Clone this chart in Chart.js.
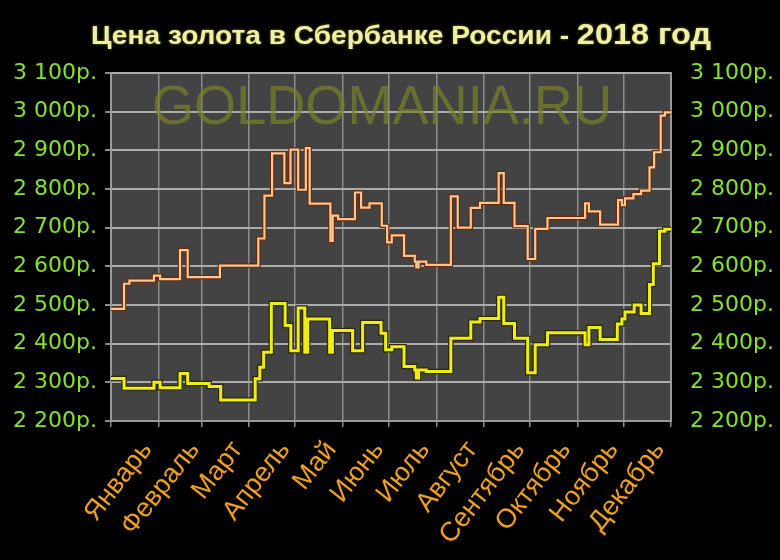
<!DOCTYPE html>
<html>
<head>
<meta charset="utf-8">
<script src="https://cdn.jsdelivr.net/npm/chart.js@4.4.1/dist/chart.umd.min.js"></script>
<style>
  html, body { margin: 0; padding: 0; background: #000; }
  #graph { display: block; }
</style>
</head>
<body>
<canvas id="graph" width="780" height="560"></canvas>
<script>
const months = ["Январь", "Февраль", "Март", "Апрель", "Май", "Июнь", "Июль", "Август", "Сентябрь", "Октябрь", "Ноябрь", "Декабрь"];
const monthStarts = [0, 31, 59, 90, 120, 151, 181, 212, 243, 273, 304, 334, 365];
const priceTicks = [2200, 2300, 2400, 2500, 2600, 2700, 2800, 2900, 3000, 3100];

// цена продажи (оранжевая линия), день года -> руб.
const sellDays = [0, 8.5, 12, 28, 32, 45, 50, 71, 96, 100, 105, 113, 117, 122, 127, 129.5, 143, 144.5, 148, 159, 163, 168.5, 176.5, 180, 183, 191, 198, 199, 200.5, 205.5, 221.5, 226, 234.5, 240.5, 252.7, 256, 263, 271.6, 276.5, 284.5, 309, 311.5, 318.8, 330.5, 333, 335, 340.5, 345.5, 351, 354, 358.3, 361, 365];
const sellPrices = [2490, 2555, 2563, 2576, 2567, 2642, 2572, 2602, 2672, 2783, 2892, 2815, 2902, 2798, 2906, 2762, 2666, 2731, 2722, 2791, 2752, 2763, 2705, 2662, 2680, 2627, 2612, 2597, 2612, 2604, 2781, 2700, 2751, 2764, 2841, 2764, 2704, 2619, 2697, 2725, 2763, 2742, 2708, 2771, 2758, 2776, 2787, 2796, 2856, 2895, 2990, 2998, 2998];

// цена покупки (жёлтая линия)
const buyDays = [0, 8.5, 28, 32, 45, 50, 64, 71.5, 94, 97, 99.5, 104.5, 113.5, 117.2, 122, 126.3, 128.2, 142.5, 144.3, 157.5, 164, 176, 179, 183, 191, 198, 199, 200.5, 205.5, 221.5, 234.5, 240.5, 252.7, 256, 263, 271.6, 276.5, 284.5, 309, 311.5, 318.8, 330, 333, 335, 341, 345.5, 351, 353.5, 357.5, 361, 365];
const buyPrices = [2310, 2285, 2300, 2286, 2323, 2297, 2289, 2254, 2309, 2339, 2378, 2504, 2447, 2382, 2492, 2378, 2464, 2378, 2434, 2382, 2455, 2427, 2384, 2392, 2341, 2332, 2311, 2332, 2328, 2414, 2456, 2465, 2520, 2452, 2414, 2325, 2397, 2428, 2397, 2442, 2411, 2451, 2464, 2482, 2500, 2478, 2553, 2607, 2691, 2696, 2696];

const sellPoints = sellDays.map((d, i) => ({x: d, y: sellPrices[i]}));
const buyPoints = buyDays.map((d, i) => ({x: d, y: buyPrices[i]}));

function rub(v) {
  const th = Math.floor(v / 1000);
  const rest = String(v % 1000).padStart(3, "0");
  return th + " " + rest + "р.";
}

// фон области графика, водяной знак и заголовок
const decor = {
  id: "decor",
  beforeDraw(chart) {
    const c = chart.ctx;
    const a = chart.chartArea;
    c.save();
    c.fillStyle = "#000";
    c.fillRect(0, 0, chart.width, chart.height);
    c.fillStyle = "#434343";
    c.fillRect(a.left, a.top, a.right - a.left, a.bottom - a.top);
    c.restore();
  },
  beforeDatasetsDraw(chart) {
    const c = chart.ctx;
    c.save();
    c.font = "56px 'Liberation Sans'";
    c.fillStyle = "rgba(120,130,40,0.7)";
    c.textBaseline = "alphabetic";
    const txt = "GOLDOMANIA.RU";
    const w = c.measureText(txt).width;
    c.translate(152, 124);
    c.scale(460 / w, 1);
    c.fillText(txt, 0, 0);
    c.restore();
  },
  afterDraw(chart) {
    const c = chart.ctx;
    c.save();
    const p1 = "Цена золота в Сбербанке России - ";
    const p2 = "2018 год";
    c.font = "bold 26px 'Liberation Sans'";
    const w1 = c.measureText(p1).width;
    c.font = "bold 30px 'Liberation Sans'";
    const w2 = c.measureText(p2).width;
    const k = 620 / (w1 + w2);
    c.translate(91, 44);
    c.scale(k, 1);
    c.shadowColor = "rgba(200,200,60,0.6)";
    c.shadowBlur = 3;
    c.fillStyle = "#efefa8";
    c.font = "bold 26px 'Liberation Sans'";
    c.fillText(p1, 0, 0);
    c.font = "bold 30px 'Liberation Sans'";
    c.fillText(p2, w1, 0);
    c.restore();
  }
};

const graph = document.getElementById("graph").getContext("2d");
const myChart = new Chart(graph, {
  type: "line",
  data: {
    datasets: [{
      data: sellPoints,
      borderColor: "#f7c796",
      borderWidth: 2.2,
      stepped: true,
      pointRadius: 0,
      order: 1
    }, {
      data: sellPoints,
      borderColor: "#6a2a0a",
      borderWidth: 4.5,
      stepped: true,
      pointRadius: 0,
      order: 2
    }, {
      data: buyPoints,
      borderColor: "#f0ee10",
      borderWidth: 3,
      stepped: true,
      pointRadius: 0,
      order: 1
    }, {
      data: buyPoints,
      borderColor: "#2a2a08",
      borderWidth: 5.5,
      stepped: true,
      pointRadius: 0,
      order: 2
    }]
  },
  options: {
    responsive: false,
    animation: false,
    layout: { padding: { top: 73, left: 0, right: 0, bottom: 0 } },
    plugins: {
      legend: { display: false },
      tooltip: { enabled: false },
      title: { display: false }
    },
    scales: {
      x: {
        type: "linear",
        min: 0,
        max: 365,
        afterBuildTicks(scale) {
          scale.ticks = monthStarts.map(v => ({value: v}));
        },
        afterFit(scale) { scale.height = 139; },
        grid: { color: "#8c8c8c", lineWidth: 1.5, tickLength: 6, tickColor: "#8c8c8c" },
        border: { color: "#9a9a9a", width: 2 },
        ticks: {
          autoSkip: false,
          minRotation: 52,
          maxRotation: 52,
          labelOffset: 36,
          padding: 8,
          color: "#eea01c",
          font: { family: "'Liberation Sans'", size: 27 },
          callback: (v, i) => months[i] || ""
        }
      },
      y: {
        position: "left",
        min: 2200,
        max: 3100,
        afterBuildTicks(scale) {
          scale.ticks = priceTicks.map(v => ({value: v}));
        },
        afterFit(scale) { scale.width = 111; },
        grid: { color: "#acacac", lineWidth: 2, tickLength: 6, tickColor: "#8c8c8c" },
        border: { color: "#9a9a9a", width: 2 },
        ticks: {
          padding: 8,
          color: "#86e22a",
          font: { family: "'DejaVu Sans'", size: 22 },
          callback: v => rub(v)
        }
      },
      y2: {
        position: "right",
        min: 2200,
        max: 3100,
        afterBuildTicks(scale) {
          scale.ticks = priceTicks.map(v => ({value: v}));
        },
        afterFit(scale) { scale.width = 109; },
        grid: { drawOnChartArea: false, drawTicks: false },
        border: { color: "#9a9a9a", width: 2 },
        ticks: {
          padding: 19,
          color: "#86e22a",
          font: { family: "'DejaVu Sans'", size: 22 },
          callback: v => rub(v)
        }
      }
    }
  },
  plugins: [decor]
});
</script>
</body>
</html>
